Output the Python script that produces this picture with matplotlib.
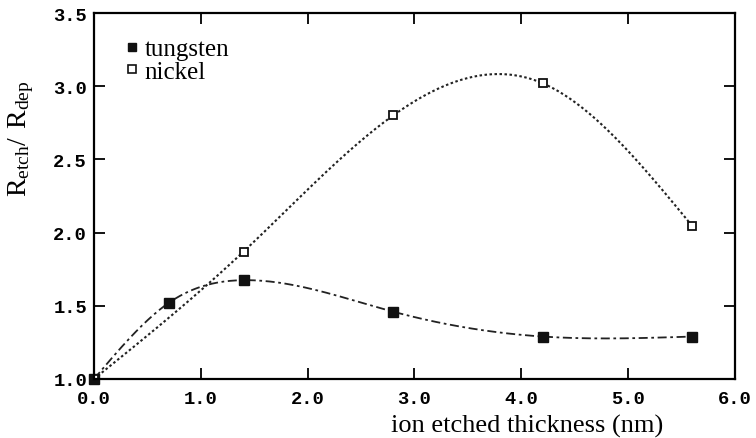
import matplotlib; matplotlib.use("Agg")
import matplotlib.pyplot as plt, numpy as np
from matplotlib.lines import Line2D

# measured points
w_x = [0.0, 0.7, 1.4, 2.8, 4.2, 5.6]
w_y = [1.00, 1.52, 1.675, 1.46, 1.29, 1.29]
ni_x = [0.0, 1.4, 2.8, 4.2, 5.6]
ni_y = [1.00, 1.87, 2.80, 3.02, 2.045]
x_ticks = [0, 1, 2, 3, 4, 5, 6]
y_ticks = [1.0, 1.5, 2.0, 2.5, 3.0, 3.5]

def natural_spline(x, y, n=300):
    # plain natural cubic spline through the measured points (the drawn guide curve)
    x = np.asarray(x, float); y = np.asarray(y, float)
    k = len(x); h = np.diff(x)
    A = np.zeros((k, k)); b = np.zeros(k)
    A[0, 0] = A[-1, -1] = 1
    for i in range(1, k - 1):
        A[i, i - 1] = h[i - 1]; A[i, i] = 2 * (h[i - 1] + h[i]); A[i, i + 1] = h[i]
        b[i] = 6 * ((y[i + 1] - y[i]) / h[i] - (y[i] - y[i - 1]) / h[i - 1])
    M = np.linalg.solve(A, b)
    xs = np.linspace(x[0], x[-1], n)
    j = np.clip(np.searchsorted(x, xs) - 1, 0, k - 2)
    t0 = x[j + 1] - xs; t1 = xs - x[j]
    ys = (M[j] * t0**3 + M[j + 1] * t1**3) / (6 * h[j]) \
        + (y[j] / h[j] - M[j] * h[j] / 6) * t0 + (y[j + 1] / h[j] - M[j + 1] * h[j] / 6) * t1
    return xs, ys

plt.rcParams["mathtext.fontset"] = "custom"
plt.rcParams["mathtext.rm"] = "Liberation Serif"
serif = "Liberation Serif"; mono = "Liberation Mono"

fig = plt.figure(figsize=(7.56, 4.39), dpi=100)
ax = fig.add_axes([0.1243, 0.1344, 0.8479, 0.8337])

xs, ys = natural_spline(w_x, w_y)
ax.plot(xs, ys, color="#222", lw=1.3, ls=(0, (5, 2, 1.5, 2)))
xs, ys = natural_spline(ni_x, ni_y)
ax.plot(xs, ys, color="#222", lw=1.5, ls=(0, (1.2, 1.2)))
ax.plot(w_x, w_y, "s", color="#111", ms=7, mec="#111", clip_on=False)
ax.plot(ni_x, ni_y, "s", mfc="white", mec="#111", ms=6, mew=1.3)

ax.set_xlim(0, 6); ax.set_ylim(1.0, 3.5)
ax.set_xticks(x_ticks); ax.set_yticks(y_ticks)
ax.set_xticklabels([f"{v:.1f}" for v in x_ticks], fontfamily=mono, fontweight="bold", fontsize=13.5)
ax.set_yticklabels([f"{v:.1f}" for v in y_ticks], fontfamily=mono, fontweight="bold", fontsize=13.5)
ax.tick_params(direction="in", length=8, width=1.3, top=True, right=True)
ax.tick_params(axis="x", pad=8); ax.tick_params(axis="y", pad=5)
for s in ax.spines.values():
    s.set_linewidth(1.6)

ax.set_xlabel("ion etched thickness (nm)", fontfamily=serif, fontsize=19)
ax.xaxis.set_label_coords(0.675, -0.095)
ax.set_ylabel(r"$\mathrm{R_{etch}/\ R_{dep}}$", fontsize=20)
ax.yaxis.set_label_coords(-0.09, 0.66)

handles = [Line2D([], [], marker="s", ls="none", color="#111", ms=6),
           Line2D([], [], marker="s", ls="none", mfc="white", mec="#111", ms=6, mew=1.2)]
ax.legend(handles, ["tungsten", "nickel"], loc="upper left", bbox_to_anchor=(0.02, 0.98),
          frameon=False, handlelength=0.6, handletextpad=0.2, labelspacing=0.0,
          borderpad=0.2, prop={"family": serif, "size": 18})

plt.savefig("out.png", dpi=100)
